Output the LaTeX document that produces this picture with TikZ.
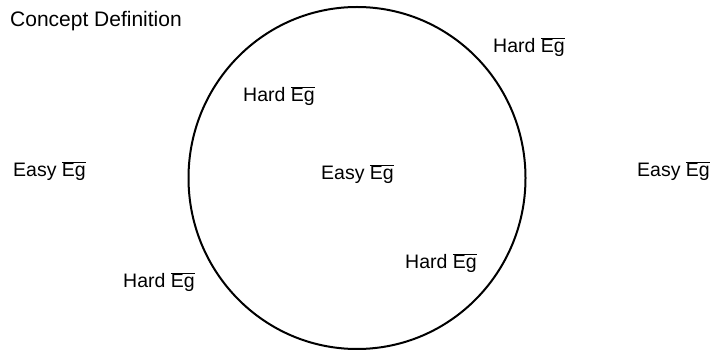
\documentclass[tikz,border=0pt]{standalone}
\usepackage{fontspec}
\setmainfont{Liberation Sans}
\usepackage{tikz}
\usetikzlibrary{positioning}
\newcommand{\eg}{$\overline{\mbox{Eg}}$}

\begin{document}
\begin{tikzpicture}[x=1pt, y=-1pt]
  \useasboundingbox (0,0) rectangle (712,352);
  \tikzset{lbl/.style={anchor=base west, inner sep=0pt, font=\fontsize{19.5}{23}\selectfont}}
  \draw[line width=2pt] (357,178) ellipse [x radius=168.5, y radius=171];
  \node[lbl, font=\fontsize{21}{24}\selectfont] (title) at (10,27) {Concept Definition};
  \node[lbl] (hardtr) at (493,53) {Hard \eg};
  \node[lbl] (hardin) at (243,102) {Hard \eg};
  \node[lbl] (easyl) at (13,177) {Easy \eg};
  \node[lbl] (easyc) at (321,180) {Easy \eg};
  \node[lbl] (easyr) at (637,177) {Easy \eg};
  \node[lbl] (hardbr) at (405,269) {Hard \eg};
  \node[lbl] (hardbl) at (123,288) {Hard \eg};
\end{tikzpicture}
\end{document}
